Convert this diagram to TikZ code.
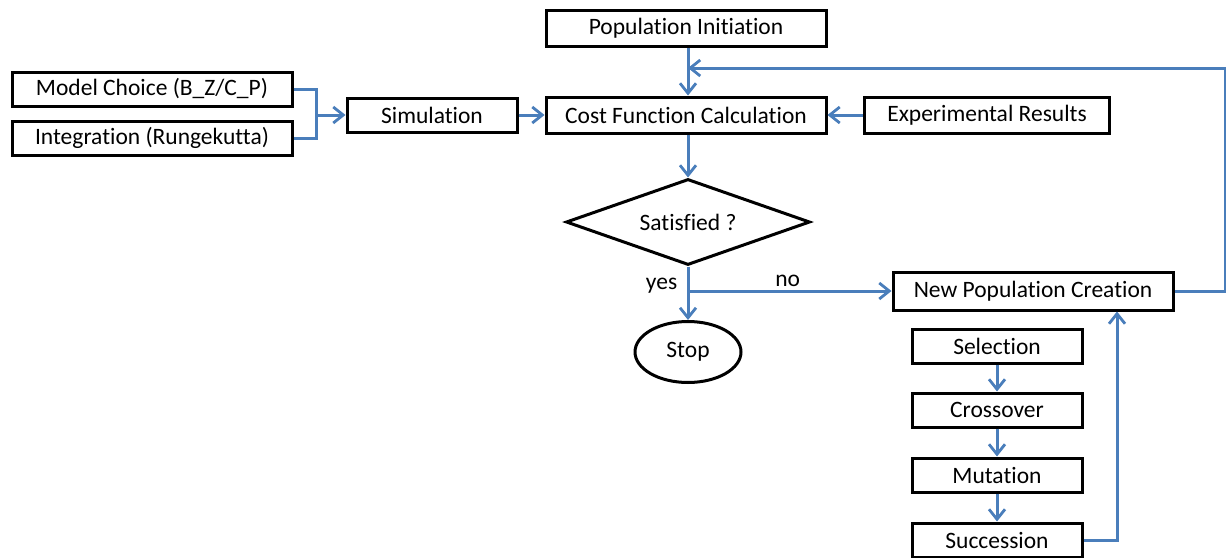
\documentclass[tikz,border=0pt]{standalone}
\usepackage{fontspec}
\setmainfont{Carlito}[Ligatures={NoCommon}]
\usetikzlibrary{arrows.meta,shapes.geometric}
\definecolor{flowblue}{RGB}{74,126,187}

\begin{document}
\begin{tikzpicture}[x=1pt, y=-1pt, >={Straight Barb[length=10pt,width=16pt,line width=2.8pt]},
    box/.style={draw, line width=3pt, font=\fontsize{23.5}{28}\selectfont, minimum height=34pt, inner sep=0pt},
    link/.style={flowblue, line width=3pt, ->},
    tag/.style={text=black, font=\fontsize{23.5}{28}\selectfont}]
    \useasboundingbox (0,0) rectangle (1226,557);
    % main column
    \node[box, minimum width=280pt, minimum height=36pt] (init) at (686,28) {Population Initiation};
    \node[box, minimum width=280pt, minimum height=36pt] (cost) at (686,115) {Cost Function Calculation};
    \node[box, minimum width=245pt, minimum height=36pt] (expt) at (987,115) {Experimental Results};
    \node[box, minimum width=170pt] (sim) at (432,115) {Simulation};
    \node[box, minimum width=280pt] (model) at (152,89) {Model Choice (B\_Z/C\_P)};
    \node[box, minimum width=280pt] (integ) at (152,138) {Integration (Rungekutta)};
    \node[box, diamond, aspect=2.9, minimum width=244pt, minimum height=86pt] (decide) at (688,222) {Satisfied ?};
    \node[box, ellipse, minimum width=106pt, minimum height=61pt] (stop) at (688,352) {Stop};
    % genetic operators
    \node[box, minimum width=280pt, minimum height=38pt] (newpop) at (1033,291) {New Population Creation};
    \node[box, minimum width=170pt] (sel) at (997,346) {Selection};
    \node[box, minimum width=170pt] (cross) at (997,410) {Crossover};
    \node[box, minimum width=170pt] (mut) at (997,475) {Mutation};
    \node[box, minimum width=170pt] (succ) at (997,540) {Succession};
    \coordinate (join) at (316,115);
    \coordinate (merge) at (688,68);

    \draw[flowblue, line width=3pt] (model.east) -| (join) |- (integ.east);
    \draw[link] (join) -- (sim);
    \draw[link] (sim) -- (cost);
    \draw[link] (expt) -- (cost);
    \draw[link] (init.south -| merge) -- (cost.north -| merge);
    \draw[link] (cost.south -| decide) -- (decide.north);
    \draw[link] (decide.south) -- (stop.north)
      node[pos=0.36, left=6pt, tag] {yes};
    \draw[link] (decide.south |- newpop.west) -- (newpop.west)
      node[pos=0.49, above=0pt, tag] {no};
    \draw[link] (newpop.east) -- ++(51,0) |- (merge);
    \foreach \a/\b in {sel/cross, cross/mut, mut/succ}
      \draw[link] (\a) -- (\b);
    \draw[link] (succ.east) -| ([xshift=84pt]newpop.south);
  \end{tikzpicture}
\end{document}
